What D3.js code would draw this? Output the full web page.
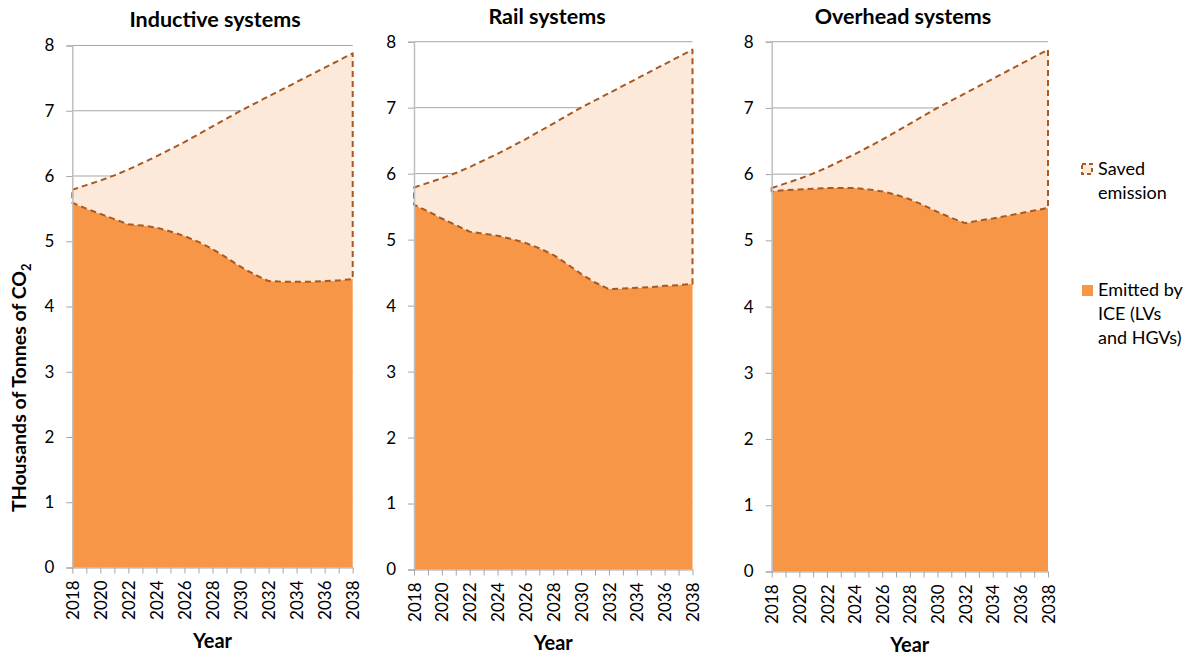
<!DOCTYPE html>
<html>
<head>
<meta charset="utf-8">
<script src="https://cdn.jsdelivr.net/npm/d3@7"></script>
<style>
  html, body { margin: 0; padding: 0; background: #fff; }
  svg { display: block; font-family: Lato, "Open Sans", sans-serif; }
</style>
</head>
<body>
<svg id="chart" width="1192" height="654"></svg>
<script>
// Years on the category axis
const years = d3.range(2018, 2039);
const yearTicks = d3.range(2018, 2039, 2);
const valueTicks = [0, 1, 2, 3, 4, 5, 6, 7, 8];

// Emissions without electric road systems (thousand tonnes CO2)
const totalEmission = [5.79, 5.86, 5.93, 6.01, 6.10, 6.20, 6.30, 6.41, 6.52, 6.64, 6.76,
                       6.88, 7.00, 7.11, 7.22, 7.33, 7.44, 7.55, 7.66, 7.77, 7.88];

// Remaining emissions from ICE vehicles under each system
const inductiveEmitted = [5.59, 5.50, 5.42, 5.34, 5.26, 5.24, 5.21, 5.15, 5.08, 4.99, 4.88,
                          4.75, 4.61, 4.49, 4.39, 4.38, 4.38, 4.38, 4.39, 4.40, 4.42];
const railEmitted = [5.53, 5.43, 5.32, 5.22, 5.12, 5.09, 5.06, 5.01, 4.95, 4.87, 4.77,
                     4.63, 4.48, 4.35, 4.25, 4.26, 4.27, 4.28, 4.30, 4.31, 4.33];
const overheadEmitted = [5.74, 5.76, 5.77, 5.78, 5.79, 5.79, 5.79, 5.77, 5.74, 5.69, 5.62,
                         5.53, 5.43, 5.34, 5.26, 5.30, 5.33, 5.37, 5.41, 5.45, 5.49];

const panelTitles = ["Inductive systems", "Rail systems", "Overhead systems"];
const legendLabels = [["Saved", "emission"], ["Emitted by", "ICE (LVs", "and HGVs)"]];

const colors = {
  emitted: "#f79646",
  saved: "#fde9d9",
  border: "#a9581f",
  grid: "#a6a6a6",
  axis: "#bfbfbf",
  text: "#000"
};

// Plot frames for the three small multiples
const frames = [
  { x0: 72.3,  x1: 352.7, yTop: 45.5, yBot: 567.5, titleX: 215, titleY: 27 },
  { x0: 414,   x1: 692.5, yTop: 41.7, yBot: 569.5, titleX: 547, titleY: 24 },
  { x0: 771.7, x1: 1048,  yTop: 41.7, yBot: 571.5, titleX: 903, titleY: 24 }
];
const emittedSeries = [inductiveEmitted, railEmitted, overheadEmitted];

const svg = d3.select("#chart");

frames.forEach((f, i) => {
  const emitted = emittedSeries[i];
  const rows = years.map((yr, k) => ({ year: yr, emitted: emitted[k], total: totalEmission[k] }));

  const x = d3.scaleLinear().domain([2018, 2038]).range([f.x0, f.x1]);
  const y = d3.scaleLinear().domain([0, 8]).range([f.yBot, f.yTop]);

  const g = svg.append("g");

  // horizontal gridlines
  g.append("g").selectAll("line").data(valueTicks.filter(v => v > 0)).join("line")
    .attr("x1", f.x0).attr("x2", f.x1)
    .attr("y1", d => y(d)).attr("y2", d => y(d))
    .attr("stroke", colors.grid).attr("stroke-width", 1);

  // emitted area
  const emittedArea = d3.area()
    .x(d => x(d.year)).y0(y(0)).y1(d => y(d.emitted));
  g.append("path").datum(rows)
    .attr("d", emittedArea)
    .attr("fill", colors.emitted);

  // saved area, stacked between emitted and total, with dashed outline
  const savedArea = d3.area()
    .x(d => x(d.year)).y0(d => y(d.emitted)).y1(d => y(d.total));
  g.append("path").datum(rows)
    .attr("d", savedArea)
    .attr("fill", colors.saved)
    .attr("stroke", colors.border)
    .attr("stroke-width", 2)
    .attr("stroke-dasharray", "6,4")
    .attr("stroke-linejoin", "round");

  // y axis
  const yAxis = d3.axisLeft(y).tickValues(valueTicks).tickSize(6).tickPadding(12)
    .tickFormat(d3.format("d"));
  const ya = g.append("g").attr("transform", `translate(${f.x0},0)`).call(yAxis);
  ya.select(".domain").attr("stroke", colors.axis).attr("stroke-width", 1.5);
  ya.selectAll(".tick line").attr("stroke", colors.grid);
  ya.selectAll(".tick text").attr("font-size", 17).attr("font-family", "Lato")
    .attr("fill", colors.text);

  // x axis: a tick every year, a label every second year
  const xAxis = d3.axisBottom(x).tickValues(years).tickSize(6).tickSizeOuter(0)
    .tickFormat(d => (yearTicks.includes(d) ? String(d) : ""));
  const xa = g.append("g").attr("transform", `translate(0,${f.yBot})`).call(xAxis);
  xa.select(".domain").attr("stroke", colors.grid).attr("stroke-width", 1);
  xa.selectAll(".tick line").attr("stroke", colors.grid);
  xa.selectAll(".tick text")
    .attr("font-size", 17).attr("font-family", "Lato").attr("fill", colors.text)
    .attr("text-anchor", "end")
    .attr("transform", "rotate(-90)")
    .attr("x", -13).attr("y", 0).attr("dy", "0.36em");

  // panel title
  svg.append("text")
    .attr("x", f.titleX).attr("y", f.titleY)
    .attr("text-anchor", "middle")
    .attr("font-size", 21.5).attr("font-weight", 700)
    .text(panelTitles[i]);

  // x axis title
  svg.append("text")
    .attr("x", (f.x0 + f.x1) / 2).attr("y", f.yBot + 80)
    .attr("text-anchor", "middle")
    .attr("font-size", 20).attr("font-weight", 700)
    .text("Year");
});

// y axis title with subscript
const yTitle = svg.append("text")
  .attr("transform", "translate(26,512) rotate(-90)")
  .attr("text-anchor", "start")
  .attr("font-size", 19.5).attr("font-weight", 700);
yTitle.append("tspan").text("THousands of Tonnes of CO");
yTitle.append("tspan").attr("font-size", 13).attr("dy", 5).text("2");

// legend
const legend = svg.append("g").attr("transform", "translate(1081,163)");
legend.append("rect")
  .attr("x", 1).attr("y", 1).attr("width", 10).attr("height", 10)
  .attr("fill", colors.saved).attr("stroke", colors.border)
  .attr("stroke-width", 2).attr("stroke-dasharray", "4,3");
legend.append("text").attr("x", 17).attr("y", 12)
  .attr("font-size", 18)
  .selectAll("tspan").data(legendLabels[0]).join("tspan")
  .attr("x", 17).attr("dy", (d, k) => (k === 0 ? 0 : 24)).text(d => d);

legend.append("rect")
  .attr("x", 1).attr("y", 122).attr("width", 11).attr("height", 11)
  .attr("fill", colors.emitted);
legend.append("text").attr("x", 17).attr("y", 133)
  .attr("font-size", 18)
  .selectAll("tspan").data(legendLabels[1]).join("tspan")
  .attr("x", 17).attr("dy", (d, k) => (k === 0 ? 0 : 24)).text(d => d);
</script>
</body>
</html>
